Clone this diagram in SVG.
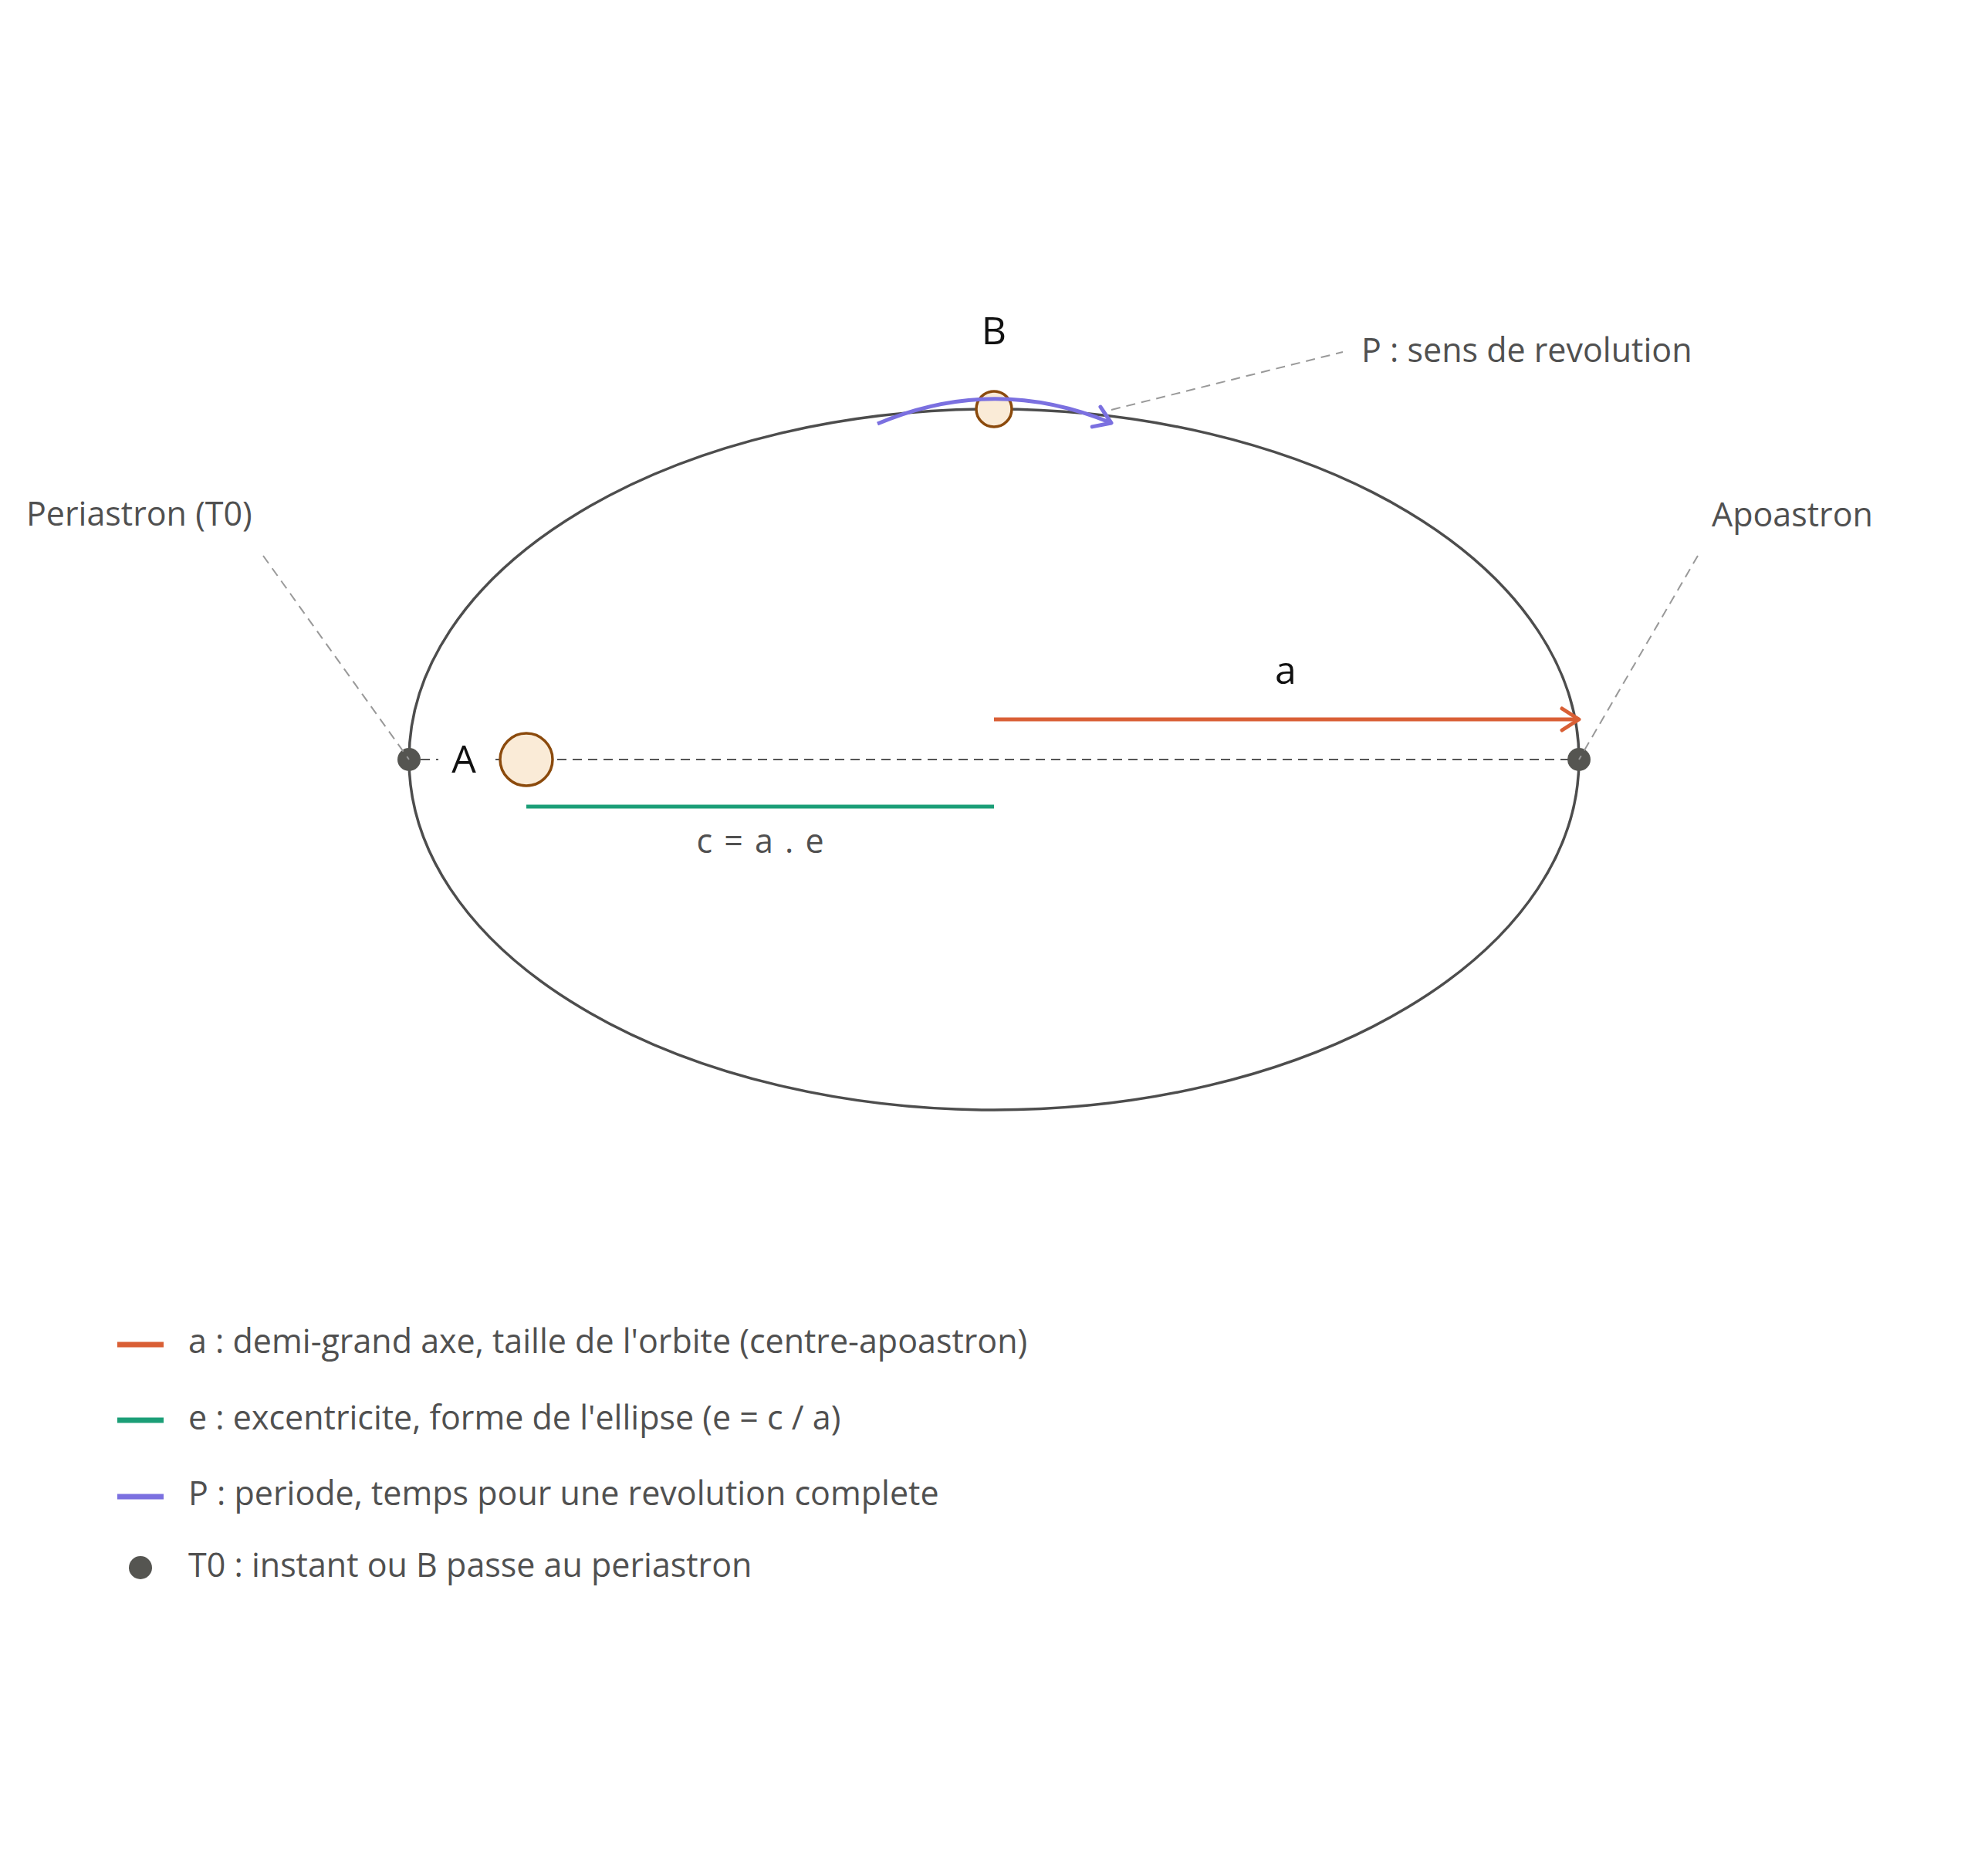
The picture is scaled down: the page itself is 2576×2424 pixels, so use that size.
<svg xmlns="http://www.w3.org/2000/svg" width="2576" height="2424" viewBox="0 0 2576 2424">
<defs>
<style>
.txt{font-family:"Open Sans","Noto Sans",sans-serif;fill:#505050;font-size:43px}
.lbl{font-family:"Open Sans","Noto Sans",sans-serif;fill:#111;font-size:50px}
.lead{stroke:#999;stroke-width:2;stroke-dasharray:12 8;fill:none}
.axis{stroke:#555;stroke-width:2;stroke-dasharray:12 8;fill:none}
.dot{fill:#555551}
.star{fill:#faebd7;stroke:#8b4a0c;stroke-width:3.5}
</style>
<marker id="arrR" markerUnits="userSpaceOnUse" markerWidth="60" markerHeight="60" viewBox="-30 -30 60 60" refX="0" refY="0" orient="auto">
<path d="M-22,-14 L0,0 L-22,14" fill="none" stroke="#d95f35" stroke-width="5" stroke-linecap="round" stroke-linejoin="round"/>
</marker>
<marker id="arrP" markerUnits="userSpaceOnUse" markerWidth="60" markerHeight="60" viewBox="-30 -30 60 60" refX="0" refY="0" orient="auto">
<path d="M-21,-14 L0,0 L-21,14" fill="none" stroke="#7b70e0" stroke-width="5" stroke-linecap="round" stroke-linejoin="round"/>
</marker>
</defs>
<rect width="2576" height="2424" fill="#fff"/>

<g id="orbit">
<ellipse cx="1288" cy="984" rx="758" ry="454" fill="none" stroke="#4d4d4d" stroke-width="3.5"/>
</g>

<g id="connectors">
<line class="axis" x1="545" y1="984" x2="568" y2="984"/>
<line class="axis" x1="642" y1="984" x2="2046" y2="984"/>
<line x1="1288" y1="932" x2="2046" y2="932" stroke="#d95f35" stroke-width="5" marker-end="url(#arrR)"/>
<line x1="682" y1="1045" x2="1288" y2="1045" stroke="#1b9e77" stroke-width="5"/>
</g>

<g id="star-A">
<circle class="star" cx="682" cy="984" r="34"/>
<text class="lbl" x="601" y="1001" text-anchor="middle">A</text>
</g>

<g id="star-B">
<circle class="star" cx="1288" cy="530" r="23"/>
<text class="lbl" x="1288" y="446" text-anchor="middle">B</text>
</g>

<g id="revolution">
<path d="M1137,549 Q1288,485 1440,548" fill="none" stroke="#7b70e0" stroke-width="5" marker-end="url(#arrP)"/>
</g>

<g id="periastron">
<circle class="dot" cx="530" cy="984" r="15"/>
<line class="lead" x1="341" y1="720" x2="530" y2="984"/>
<text class="txt" x="34" y="681">Periastron (T0)</text>
</g>

<g id="apoastron">
<circle class="dot" cx="2046" cy="984" r="15"/>
<line class="lead" x1="2200" y1="720" x2="2046" y2="984"/>
<text class="txt" x="2218" y="682">Apoastron</text>
</g>

<g id="label-P">
<line class="lead" x1="1440" y1="531" x2="1740" y2="456"/>
<text class="txt" x="1764" y="469">P : sens de revolution</text>
</g>

<g id="label-a">
<text class="lbl" x="1666" y="886" text-anchor="middle">a</text>
</g>

<g id="label-c">
<text class="txt" x="986" y="1105" text-anchor="middle" letter-spacing="2">c = a . e</text>
</g>

<g id="legend">
<line x1="152" y1="1742" x2="212" y2="1742" stroke="#d95f35" stroke-width="7"/>
<text class="txt" x="244" y="1753">a : demi-grand axe, taille de l'orbite (centre-apoastron)</text>
<line x1="152" y1="1840" x2="212" y2="1840" stroke="#1b9e77" stroke-width="7"/>
<text class="txt" x="244" y="1852">e : excentricite, forme de l'ellipse (e = c / a)</text>
<line x1="152" y1="1939" x2="212" y2="1939" stroke="#7b70e0" stroke-width="7"/>
<text class="txt" x="244" y="1950">P : periode, temps pour une revolution complete</text>
<circle class="dot" cx="182" cy="2031" r="15"/>
<text class="txt" x="244" y="2043">T0 : instant ou B passe au periastron</text>
</g>
</svg>
